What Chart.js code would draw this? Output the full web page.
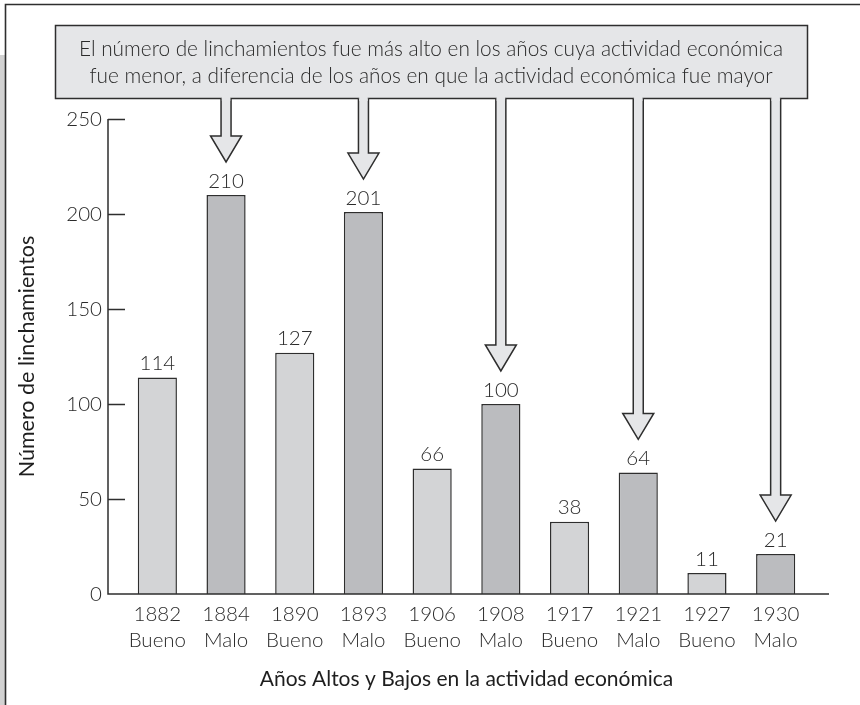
<!DOCTYPE html>
<html>
<head>
<meta charset="utf-8">
<script src="https://cdn.jsdelivr.net/npm/chart.js@4"></script>
<style>
    body { margin: 0; background: #fff; }
    canvas { display: block; }
</style>
</head>
<body>
<canvas id="chart" width="860" height="705"></canvas>
<script>
// data
const years = ['1882', '1884', '1890', '1893', '1906', '1908', '1917', '1921', '1927', '1930'];
const status = ['Bueno', 'Malo', 'Bueno', 'Malo', 'Bueno', 'Malo', 'Bueno', 'Malo', 'Bueno', 'Malo'];
const lynchings = [114, 210, 127, 201, 66, 100, 38, 64, 11, 21];
const yMax = 250;
const yStep = 50;
const calloutLines = [
    'El número de linchamientos fue más alto en los años cuya actividad económica',
    'fue menor, a diferencia de los años en que la actividad económica fue mayor'
];
const arrowYears = ['1884', '1893', '1908', '1921', '1930'];

const TEXT = '#2a2a2a';
const LINE = '#2e2e2e';
const FONT = 'Lato, "Open Sans", sans-serif';

function barColor(s) {
    return s === 'Bueno' ? '#d3d4d6' : '#bbbcbf';
}

// frame, axes, value labels, callout box with arrows
const decorations = {
    id: 'decorations',
    beforeDraw(chart) {
        const ctx = chart.ctx;
        ctx.save();
        ctx.fillStyle = '#fff';
        ctx.fillRect(0, 0, chart.width, chart.height);
        ctx.fillStyle = '#d2d2d2';
        ctx.fillRect(0, 55, 5, chart.height - 55);
        ctx.strokeStyle = LINE;
        ctx.lineWidth = 1.6;
        ctx.beginPath();
        ctx.moveTo(5.5, chart.height);
        ctx.lineTo(5.5, 4.5);
        ctx.lineTo(chart.width, 4.5);
        ctx.stroke();
        ctx.restore();
    },
    afterDraw(chart) {
        const ctx = chart.ctx;
        const area = chart.chartArea;
        const xs = chart.scales.x;
        const ys = chart.scales.y;
        const axisX = area.left - 15;
        const baseY = ys.getPixelForValue(0);

        ctx.save();
        ctx.strokeStyle = LINE;
        ctx.lineWidth = 1.5;
        ctx.beginPath();
        ctx.moveTo(axisX, ys.getPixelForValue(yMax));
        ctx.lineTo(axisX, baseY);
        ctx.lineTo(area.right + 19, baseY);
        for (let v = yStep; v <= yMax; v += yStep) {
            const y = Math.round(ys.getPixelForValue(v)) + 0.5;
            ctx.moveTo(axisX, y);
            ctx.lineTo(axisX + 17, y);
        }
        ctx.stroke();

        // values above bars
        ctx.fillStyle = TEXT;
        ctx.font = '300 20.5px ' + FONT;
        ctx.textAlign = 'center';
        ctx.textBaseline = 'middle';
        const bars = chart.getDatasetMeta(0).data;
        bars.forEach((bar, i) => {
            ctx.fillText(String(lynchings[i]), bar.x, bar.y - 14);
        });

        // callout box
        const boxL = 55, boxT = 25, boxR = 807, boxB = 98;
        ctx.fillStyle = '#e5e6e8';
        ctx.fillRect(boxL, boxT, boxR - boxL, boxB - boxT);
        ctx.strokeRect(boxL + 0.5, boxT + 0.5, boxR - boxL, boxB - boxT);

        // arrows down to the "Malo" bars
        arrowYears.forEach(yr => {
            const i = years.indexOf(yr);
            const x = xs.getPixelForValue(i);
            const tip = ys.getPixelForValue(lynchings[i]) - 33;
            const headY = tip - 26;
            ctx.beginPath();
            ctx.moveTo(x - 5, boxB + 0.5);
            ctx.lineTo(x - 5, headY);
            ctx.lineTo(x - 15.5, headY);
            ctx.lineTo(x, tip);
            ctx.lineTo(x + 15.5, headY);
            ctx.lineTo(x + 5, headY);
            ctx.lineTo(x + 5, boxB + 0.5);
            ctx.fillStyle = '#e5e6e8';
            ctx.fill();
            ctx.stroke();
            ctx.fillRect(x - 4.2, boxB - 1, 8.4, 4);
        });

        ctx.fillStyle = TEXT;
        ctx.font = '300 20.8px ' + FONT;
        ctx.textAlign = 'center';
        ctx.fillText(calloutLines[0], (boxL + boxR) / 2, 49);
        ctx.fillText(calloutLines[1], (boxL + boxR) / 2, 76);
        ctx.restore();
    }
};

new Chart(document.getElementById('chart'), {
    type: 'bar',
    data: {
        labels: years.map((y, i) => [y, status[i]]),
        datasets: [{
            data: lynchings,
            backgroundColor: status.map(barColor),
            borderColor: LINE,
            borderWidth: 1.5,
            categoryPercentage: 1,
            barPercentage: 0.57
        }]
    },
    options: {
        responsive: false,
        animation: false,
        layout: { padding: { left: 10, right: 50, top: 119, bottom: 12 } },
        plugins: {
            legend: { display: false },
            tooltip: { enabled: false }
        },
        scales: {
            x: {
                grid: { display: false, drawTicks: false },
                border: { display: false },
                ticks: {
                    color: TEXT,
                    padding: 7,
                    font: { family: FONT, size: 20.5, weight: '300', lineHeight: 1.28 }
                },
                title: {
                    display: true,
                    text: 'Años Altos y Bajos en la actividad económica',
                    color: '#1e1e1e',
                    padding: { top: 0, bottom: 1 },
                    font: { family: FONT, size: 21, weight: '400', lineHeight: 1.2 }
                },
                afterFit(s) { s.height = 99; }
            },
            y: {
                min: 0,
                max: yMax,
                grid: { display: false, drawTicks: false },
                border: { display: false },
                ticks: {
                    stepSize: yStep,
                    color: TEXT,
                    padding: 21,
                    font: { family: FONT, size: 20.5, weight: '300' }
                },
                title: {
                    display: true,
                    text: 'Número de linchamientos',
                    color: '#1e1e1e',
                    padding: { top: 4, bottom: 0 },
                    font: { family: FONT, size: 21.5, weight: '400', lineHeight: 1.2 }
                },
                afterFit(s) { s.width = 113; }
            }
        }
    },
    plugins: [decorations]
});
</script>
</body>
</html>
